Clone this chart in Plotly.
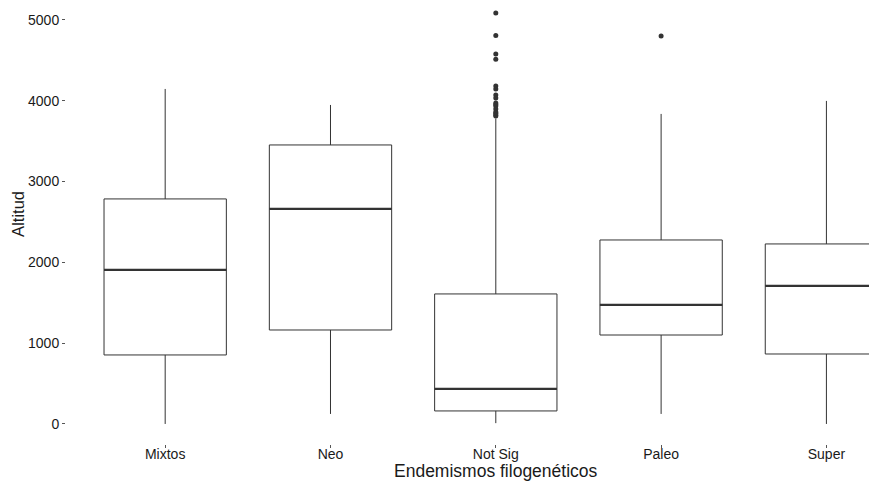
import plotly.graph_objects as go

categories = ["Mixtos", "Neo", "Not Sig", "Paleo", "Super"]
lower_whisker = [0, 124, 10, 124, 0]
q1 = [854, 1163, 161, 1101, 866]
median = [1906, 2661, 433, 1473, 1708]
q3 = [2785, 3453, 1609, 2277, 2228]
upper_whisker = [4146, 3948, 3780, 3837, 3998]

outlier_cat = ["Not Sig"] * 16 + ["Paleo"]
outlier_val = [5085, 4808, 4579, 4514, 4183, 4146, 4072, 4035, 3973, 3936,
               3899, 3861, 3824, 3810, 3845, 3955, 4802]

yticks = [0, 1000, 2000, 3000, 4000, 5000]

line_col = "#333333"
text_col = "#1a1a1a"
font_fam = "Liberation Sans, Arial, Helvetica, sans-serif"

fig = go.Figure()
fig.add_trace(go.Box(
    x=categories, q1=q1, median=median, q3=q3,
    lowerfence=lower_whisker, upperfence=upper_whisker,
    fillcolor="rgba(0,0,0,0)", line=dict(color=line_col, width=1),
    whiskerwidth=0, width=0.74, boxpoints=False, showlegend=False,
))
# thicker median line
fig.add_trace(go.Box(
    x=categories, q1=median, median=median, q3=median,
    lowerfence=median, upperfence=median,
    fillcolor="rgba(0,0,0,0)", line=dict(color=line_col, width=2.2),
    whiskerwidth=0, width=0.74, boxpoints=False, showlegend=False,
    hoverinfo="skip",
))
fig.add_trace(go.Scatter(
    x=outlier_cat, y=outlier_val, mode="markers",
    marker=dict(color=line_col, size=5), showlegend=False,
))

fig.update_layout(
    width=869, height=473,
    margin=dict(l=58, r=0, t=0, b=37),
    paper_bgcolor="white", plot_bgcolor="white",
    boxmode="overlay",
    font=dict(family=font_fam, color=text_col, size=14),
    xaxis=dict(
        type="category", categoryorder="array", categoryarray=categories,
        range=[-0.6, 4.306], showgrid=False, zeroline=False, showline=False,
        ticks="outside", ticklen=3, tickcolor="#555555", tickwidth=1,
        ticklabelstandoff=-6,
        tickfont=dict(size=14, color=text_col, family=font_fam),
    ),
    yaxis=dict(
        range=[-248, 5148], tickvals=yticks, showgrid=False, zeroline=False,
        showline=False, ticks="outside", ticklen=3, tickcolor="#555555",
        tickwidth=1, tickfont=dict(size=14, color=text_col, family=font_fam),
    ),
    annotations=[
        dict(text="Endemismos filogenéticos", xref="x", x=2, yref="paper",
             y=0, yshift=-15, yanchor="top", showarrow=False,
             font=dict(size=17.5, color=text_col, family=font_fam)),
        dict(text="Altitud", xref="paper", x=0, xshift=-48, xanchor="center",
             yref="y", y=2600, showarrow=False, textangle=-90,
             font=dict(size=16.5, color=text_col, family=font_fam)),
    ],
)

fig.write_html("out.html")
